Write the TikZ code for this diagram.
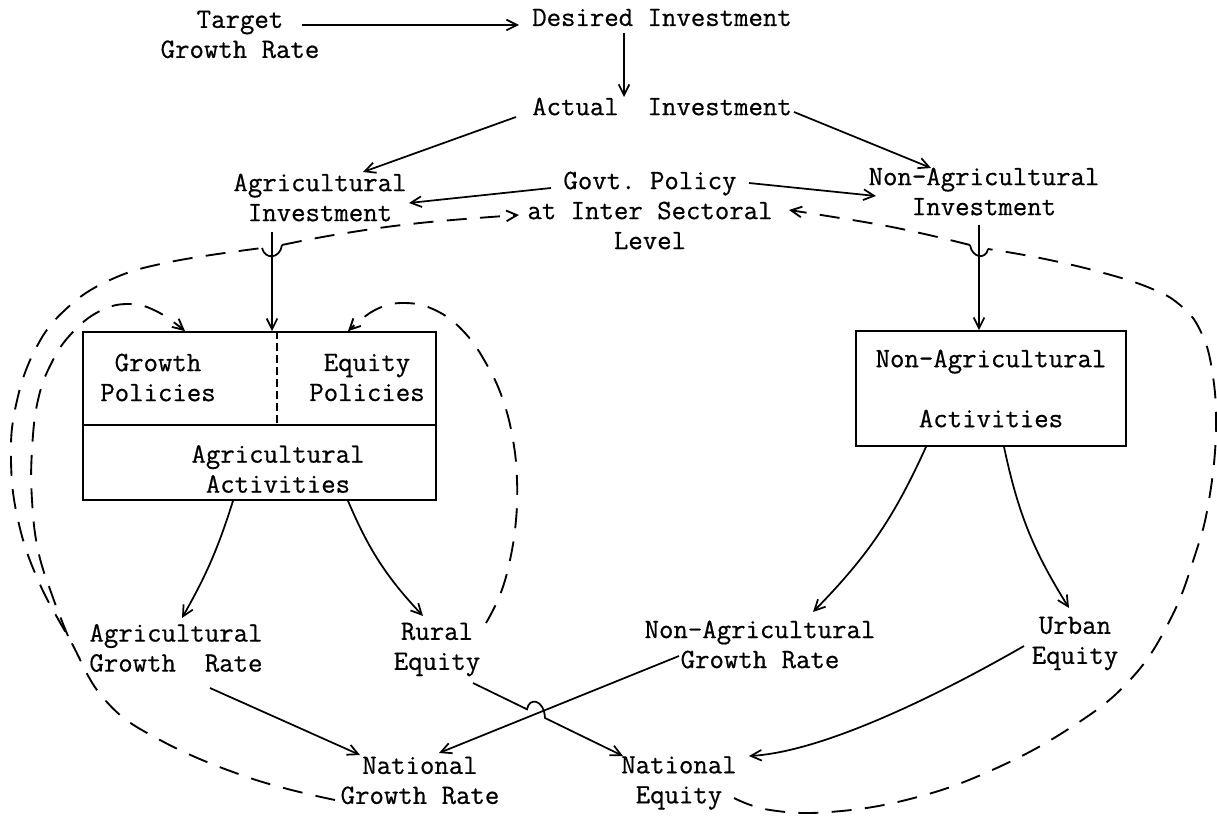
\documentclass[tikz,border=0pt]{standalone}
\usepackage{fontspec}
\newfontfamily\twfont{Latin Modern Mono}[FakeBold=0.6]
\usetikzlibrary{arrows.meta,calc}
\begin{document}
\begin{tikzpicture}[x=0.75pt,y=-0.75pt,
  every node/.style={font=\twfont\bfseries\fontsize{21pt}{22.5pt}\selectfont\frenchspacing, inner sep=0pt, align=center},
  conn/.style={line width=1.3pt, -{Straight Barb[length=8pt,width=8pt]}},
  fb/.style={line width=1.4pt, dash pattern=on 15pt off 10pt, -{Straight Barb[length=8pt,width=8pt]}},
  fbplain/.style={line width=1.4pt, dash pattern=on 15pt off 10pt},
  hop/.style={line width=1.3pt},
  boxed/.style={draw, line width=1.3pt}
]
\useasboundingbox (0,0) rectangle (1217,816);
\fill[white] (0,0) rectangle (1217,816);

% nodes
\node (target) at (240,34.5) {Target\\Growth Rate};
\node (desired) at (662,17.5) {Desired Investment};
\node (actual) at (662,106.5) {Actual~~Investment};
\node (aginv) at (320,197.5) {Agricultural\\Investment};
\node (govt) at (650,210.5) {Govt. Policy\\at Inter Sectoral\\Level};
\node (nonaginv) at (984,191.5) {Non-Agricultural\\Investment};
\node[boxed, minimum width=264.75pt, minimum height=126pt] (agbox) at (259.5,416) {};
\node (growthpol) at (158,377.5) {Growth\\Policies};
\node (equitypol) at (367,377.5) {Equity\\Policies};
\node (agact) at (278,469) {Agricultural\\Activities};
\node[boxed, minimum width=202.5pt, minimum height=86.25pt] (nonagact) at (991,388.5) {Non-Agricultural\\[22.5pt]Activities};
\node (aggr) at (176,648) {Agricultural\\Growth~~Rate};
\node (rural) at (437,649.5) {Rural\\Equity};
\node (nonaggr) at (760,644.5) {Non-Agricultural\\Growth Rate};
\node (urban) at (1075,643.5) {Urban\\Equity};
\node (natgr) at (420,780.5) {National\\Growth Rate};
\node (nateq) at (679,783) {National\\Equity};

% box internals
\draw[line width=1.3pt] ($(agbox.west)+(0,9)$) -- ($(agbox.east)+(0,9)$);
\draw[line width=1.3pt, dash pattern=on 6pt off 3pt] ($(agbox.north)+(17.5,0)$) -- ($(agbox.north)+(17.5,93)$);

% solid connectors
\draw[conn] ($(target)+(62,-9.5)$) -- ($(desired)+(-143,7.5)$);
\draw[conn] ($(desired)+(-38,15.5)$) -- ($(actual)+(-38,-9.5)$);
\draw[conn] ($(actual)+(-146,10.5)$) -- ($(aginv)+(43,-25.5)$);
\draw[conn] ($(actual)+(132,5.5)$) -- ($(nonaginv)+(-53,-23.5)$);
\draw[conn] ($(govt)+(-99,-22.5)$) -- ($(aginv)+(89,5.5)$);
\draw[conn] ($(govt)+(99,-27.5)$) -- ($(nonaginv)+(-108,4.5)$);
\draw[conn] ($(aginv)+(-48,34.5)$) -- ($(agbox.north)+(12.5,0)$);
\draw[conn] ($(nonaginv)+(-5,33.5)$) -- ($(nonagact.north)+(-12,0)$);
\draw[conn] ($(agbox.south)+(-26.5,0)$) to[bend left=6] ($(aggr)+(6,-30)$);
\draw[conn] ($(agbox.south)+(88.5,0)$) to[bend right=10] ($(rural)+(-14,-33.5)$);
\draw[conn] ($(nonagact.south)+(-65,0)$) to[bend left=10] ($(nonaggr)+(53,-32.5)$);
\draw[conn] ($(nonagact.south)+(13,0)$) to[bend right=10] ($(urban)+(-6,-35.5)$);
\draw[conn] ($(aggr)+(34,40)$) -- ($(natgr)+(-60,-25.5)$);
\draw[conn] ($(nonaggr)+(-81,11.5)$) -- ($(natgr)+(19,-27.5)$);
\draw[conn] ($(rural)+(36,33.5)$) -- (527,709.3) .. controls (529,697) and (544,699) .. (545,718) -- ($(nateq)+(-56,-27)$);
\draw[conn] ($(urban)+(-51,2.5)$) .. controls (930,700) and (820,752) .. ($(nateq)+(70,-27)$);

% dashed feedback loops
\coordinate (l1s) at ($(natgr)+(-85,19.5)$);
\coordinate (l1e) at ($(govt)+(-131,4.5)$);
\draw[fbplain] plot[smooth,tension=0.7] coordinates {(l1s) (250,778) (160,740) (105,700) (70,640) (38,580) (18,520) (11,460) (16,405) (35,350) (65,310) (110,280) (170,262) (262,248)};
\draw[hop] (262,248) .. controls (265,260) and (280,259) .. (282,245);
\draw[fb] plot[smooth,tension=0.7] coordinates {(282,245) (340,234) (420,223) (l1e)};

\coordinate (l2s) at ($(aggr)+(-108,-12)$);
\coordinate (l2e) at ($(agbox.north)+(-74.5,0)$);
\draw[fb] plot[smooth,tension=0.7] coordinates {(l2s) (52,595) (38,550) (32,500) (32,450) (38,400) (52,362) (72,333) (100,311) (130,304) (158,312) (l2e)};

\coordinate (l3s) at ($(rural)+(49,-26.5)$);
\coordinate (l3e) at ($(agbox.north)+(88.5,0)$);
\draw[fb] plot[smooth,tension=0.7] coordinates {(l3s) (500,595) (510,560) (516,520) (517,480) (513,440) (503,400) (487,365) (465,333) (437,311) (405,303) (375,310) (l3e)};

\coordinate (l4s) at ($(nateq)+(55,15)$);
\coordinate (l4e) at ($(govt)+(139,-0.5)$);
\draw[fbplain] plot[smooth,tension=0.7] coordinates {(l4s) (770,810) (830,812) (910,799) (990,771) (1070,728) (1130,680) (1170,620) (1195,555) (1209,500) (1216,430) (1212,370) (1200,330) (1180,305) (1150,288) (1100,272) (1040,258) (988,249)};
\draw[hop] (988,249) .. controls (986,260) and (972,258) .. (970,245);
\draw[fb] plot[smooth,tension=0.7] coordinates {(970,245) (920,233) (870,223) (l4e)};
\end{tikzpicture}
\end{document}
